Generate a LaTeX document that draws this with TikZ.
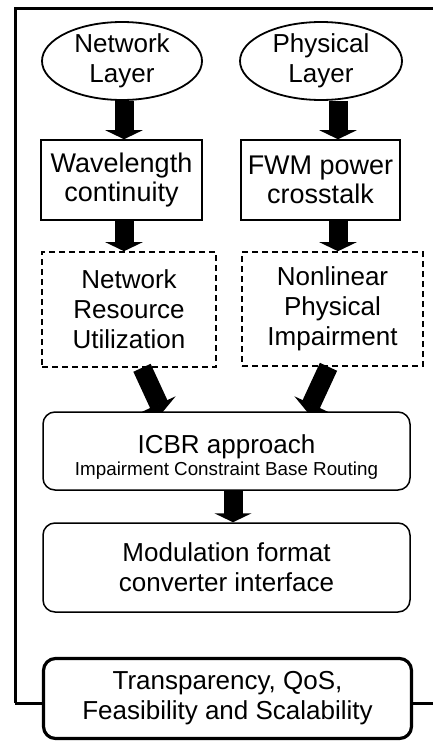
\documentclass[tikz,border=0pt]{standalone}
\usepackage{fontspec}
\setmainfont{Liberation Sans}
\usetikzlibrary{shapes.geometric,arrows.meta}

\tikzset{
  txt/.style={font=\fontsize{26}{30}\selectfont, align=center, inner sep=0pt},
  bigtxt/.style={font=\fontsize{27}{29.5}\selectfont},
  layer/.style={txt, ellipse, draw, line width=1.8pt},
  plainbox/.style={txt, bigtxt, rectangle, draw, line width=1.5pt},
  dashbox/.style={txt, rectangle, draw, line width=1.6pt, dash pattern=on 6pt off 4pt},
  roundbox/.style={txt, rectangle, rounded corners=12pt, draw, line width=1.5pt, fill=white},
  goalbox/.style={roundbox, line width=3.2pt},
  blockarrow/.style={line width=19pt, -{Triangle[length=9pt,width=37pt]}},
}

\begin{document}
\begin{tikzpicture}[x=1pt, y=-1pt]
  \useasboundingbox (0,0) rectangle (433,741);

  % outer frame, open on the right
  \coordinate (fbl) at (15,703);
  \coordinate (ftl) at (15,9);
  \coordinate (ftr) at (433,9);
  \coordinate (fbr) at (433,703);
  \draw[line width=3pt, line join=miter] (fbl) -- (ftl) -- (ftr);

  % layers
  \node[layer, minimum width=160pt, minimum height=78pt] (nl) at (122,61) {Network\\Layer};
  \node[layer, minimum width=162pt, minimum height=78pt] (pl) at (321,61) {Physical\\Layer};

  % constraints
  \node[plainbox, minimum width=161pt, minimum height=80pt] (wc) at (121.5,180) {Wavelength\\continuity};
  \node[plainbox, minimum width=159pt, minimum height=80pt] (fwm) at (320.5,180) {FWM power\\crosstalk};

  % effects
  \node[dashbox, minimum width=174pt, minimum height=115pt] (nru) at (129,309.5) {Network\\Resource\\Utilization};
  \node[dashbox, minimum width=181pt, minimum height=114pt] (npi) at (332.5,309) {Nonlinear\\Physical\\Impairment};

  % routing and interface
  \node[roundbox, minimum width=367pt, minimum height=78pt] (icbr) at (226.5,451)
    {\rule{0pt}{30pt}ICBR approach\\[-8pt]{\fontsize{18.8}{21}\selectfont Impairment Constraint Base Routing}};
  \node[roundbox, minimum width=367pt, minimum height=89pt] (mod) at (226.5,567.5)
    {Modulation format\\converter interface};

  % goal box sitting on the bottom frame line
  \draw[line width=3pt] (fbl) -- (43,703);
  \draw[line width=3pt] (411,703) -- (fbr);
  \node[goalbox, minimum width=368pt, minimum height=80pt] (tqs) at (227.5,698.5)
    {Transparency, QoS,\\Feasibility and Scalability};

  % block arrows
  \draw[blockarrow] ([xshift=2pt]nl.south) -- ([xshift=2.5pt]wc.north);
  \draw[blockarrow] ([xshift=17pt]pl.south) -- ([xshift=17.5pt]fwm.north);
  \draw[blockarrow] ([xshift=2.5pt]wc.south) -- ([xshift=-5pt]nru.north);
  \draw[blockarrow] ([xshift=17.5pt]fwm.south) -- ([xshift=5.5pt]npi.north);
  \draw[blockarrow] ([xshift=13pt]nru.south) -- ([xshift=-64pt,yshift=-1pt]icbr.north);
  \draw[blockarrow] ([xshift=-4pt]npi.south) -- ([xshift=81pt,yshift=-1pt]icbr.north);
  \draw[blockarrow] ([xshift=6.5pt]icbr.south) -- ([xshift=6.5pt]mod.north);
\end{tikzpicture}
\end{document}
